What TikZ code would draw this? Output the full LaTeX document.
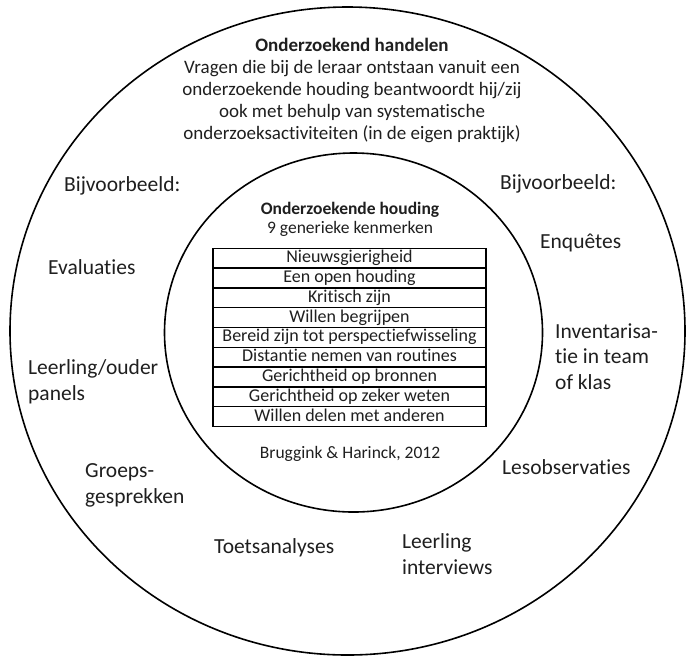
\documentclass[tikz,border=0pt]{standalone}
\usepackage{fontspec}
\setmainfont{Carlito}[Ligatures=NoCommon]
\begin{document}
\begin{tikzpicture}[x=1pt,y=-1pt,
  ringline/.style={line width=1.6pt, black},
  example/.style={anchor=base west, inner sep=0pt, align=left,
    font=\fontsize{21.5}{26.5}\selectfont, text=black!88},
  para/.style={anchor=base, inner sep=0pt, align=center,
    font=\fontsize{19}{22}\selectfont, text=black!88},
  innertext/.style={anchor=base, inner sep=0pt,
    font=\fontsize{17.5}{20}\selectfont, text=black!88},
  rowbox/.style={draw, line width=1.3pt, anchor=north, inner sep=0pt, outer sep=0pt,
    minimum width=273pt, minimum height=19.8pt, text height=12.5pt, text depth=3.5pt,
    font=\fontsize{18}{20}\selectfont, text=black!88}
]
\useasboundingbox (0,0) rectangle (687,657);
\fill[white] (0,0) rectangle (687,657);
% rings
\draw[ringline] (347.5,331) ellipse [x radius=337.5pt, y radius=324pt];
\draw[ringline] (353.5,332.5) ellipse [x radius=189pt, y radius=179.5pt];
% top text (base anchor of a multi-line node = its last line)
\node[para, font=\bfseries\fontsize{19}{22}\selectfont] (title) at (352,51) {Onderzoekend handelen};
\node[para] (desc) at (352,139) {Vragen die bij de leraar ontstaan vanuit een\\
onderzoekende houding beantwoordt hij/zij\\
ook met behulp van systematische\\
onderzoeksactiviteiten (in de eigen praktijk)};
% examples
\node[example] (bvl) at (64,191) {Bijvoorbeeld:};
\node[example] (bvr) at (500,189) {Bijvoorbeeld:};
\node[example] (eval) at (48,274) {Evaluaties};
\node[example] (enq) at (540,248) {Enquêtes};
\node[example] (lop) at (28,400.5) {Leerling/ouder\\panels};
\node[example, font=\fontsize{21.5}{25.5}\selectfont] (inv) at (555,389) {Inventarisa-\\tie in team\\of klas};
\node[example] (groep) at (85,503.5) {Groeps-\\gesprekken};
\node[example] (les) at (502,474) {Lesobservaties};
\node[example] (toets) at (214,553) {Toetsanalyses};
\node[example] (lint) at (402,574.5) {Leerling\\interviews};
% inner
\node[innertext, font=\bfseries\fontsize{17.5}{20}\selectfont] (ititle) at (350,214) {Onderzoekende houding};
\node[innertext] (isub) at (350,233) {9 generieke kenmerken};
\node[rowbox] (r1) at (349.5,248.3) {Nieuwsgierigheid};
\node[rowbox] (r2) at (r1.south) {Een open houding};
\node[rowbox] (r3) at (r2.south) {Kritisch zijn};
\node[rowbox] (r4) at (r3.south) {Willen begrijpen};
\node[rowbox] (r5) at (r4.south) {Bereid zijn tot perspectiefwisseling};
\node[rowbox] (r6) at (r5.south) {Distantie nemen van routines};
\node[rowbox] (r7) at (r6.south) {Gerichtheid op bronnen};
\node[rowbox] (r8) at (r7.south) {Gerichtheid op zeker weten};
\node[rowbox] (r9) at (r8.south) {Willen delen met anderen};
\draw[line width=2pt] (r1.north west) -- (r9.south west);
\draw[line width=2pt] (r1.north east) -- (r9.south east);
\node[innertext] (src) at (350,458) {Bruggink \& Harinck, 2012};
\end{tikzpicture}
\end{document}
